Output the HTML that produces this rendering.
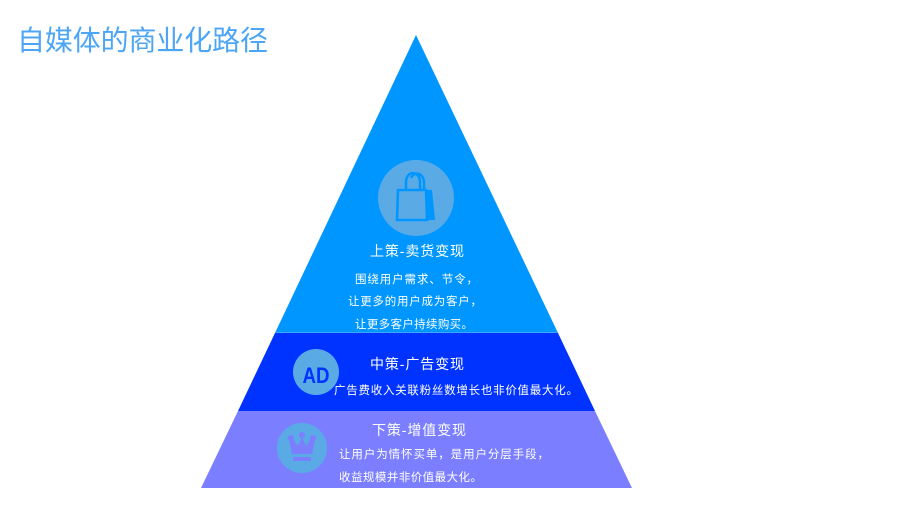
<!DOCTYPE html>
<html><head><meta charset="utf-8"><style>
html,body{margin:0;padding:0;background:#fff;}
body{width:898px;height:514px;overflow:hidden;}
svg{display:block;}
text{font-family:"Liberation Sans","Noto Sans CJK SC",sans-serif;}
</style></head><body>
<svg width="898" height="514" viewBox="0 0 898 514" xmlns="http://www.w3.org/2000/svg">
<text x="17" y="50" font-size="28" fill="#4DA6F5" textLength="251">自媒体的商业化路径</text>
<polygon points="416,35 558,333 275,333" fill="#0096FF"/>
<polygon points="275,333 558,333 595,411 238,411" fill="#0033FF"/>
<polygon points="238,411 595,411 632,488 201,488" fill="#7B7FFF"/>
<line x1="275" y1="332.5" x2="558" y2="332.5" stroke="#36A9FF" stroke-width="1"/>
<circle cx="416" cy="198" r="38" fill="#5AAAE6"/>
<g fill="none" stroke="#0096FF" stroke-width="2.5">
<path d="M406,190 v-8 a7,9 0 0 1 14,0 v8"/>
<path d="M411,178 a7,9 0 0 1 13,4 v8"/>
</g>
<polygon points="398,190 426,190 427,220 397,220" fill="none" stroke="#0096FF" stroke-width="2.5"/>
<polygon points="426,190 432,190 435,220 427,220" fill="#0096FF"/>
<text x="370" y="256" font-size="14" fill="#fff" textLength="94">上策-卖货变现</text>
<text x="355" y="283" font-size="11.5" fill="#fff" textLength="123">围绕用户需求、节令，</text>
<text x="348" y="305" font-size="11.5" fill="#fff" textLength="134">让更多的用户成为客户，</text>
<text x="355" y="328" font-size="11.5" fill="#fff" textLength="118">让更多客户持续购买。</text>
<circle cx="316" cy="372" r="23" fill="#5AAAE6"/>
<text x="316" y="383" font-size="22" font-weight="bold" fill="#0033FF" text-anchor="middle" transform="translate(316 0) scale(0.85 1) translate(-316 0)">AD</text>
<text x="370" y="369" font-size="14" fill="#fff" textLength="94">中策-广告变现</text>
<text x="334" y="394" font-size="11.5" fill="#fff" textLength="244">广告费收入关联粉丝数增长也非价值最大化。</text>
<circle cx="302" cy="448" r="25" fill="#5AAAE6"/>
<g fill="#7B7FFF">
<circle cx="291" cy="438" r="3"/><circle cx="302" cy="435" r="3"/><circle cx="313" cy="438" r="3"/>
<polygon points="289,440 294,440 298,446 302,437 306,446 310,440 315,440 312,454 292,454"/>
<rect x="293" y="457" width="18" height="4"/>
</g>
<text x="372" y="435" font-size="14" fill="#fff" textLength="94">下策-增值变现</text>
<text x="339" y="458" font-size="11.5" fill="#fff" textLength="210">让用户为情怀买单，是用户分层手段，</text>
<text x="339" y="481" font-size="11.5" fill="#fff" textLength="143">收益规模并非价值最大化。</text>
</svg>
</body></html>
